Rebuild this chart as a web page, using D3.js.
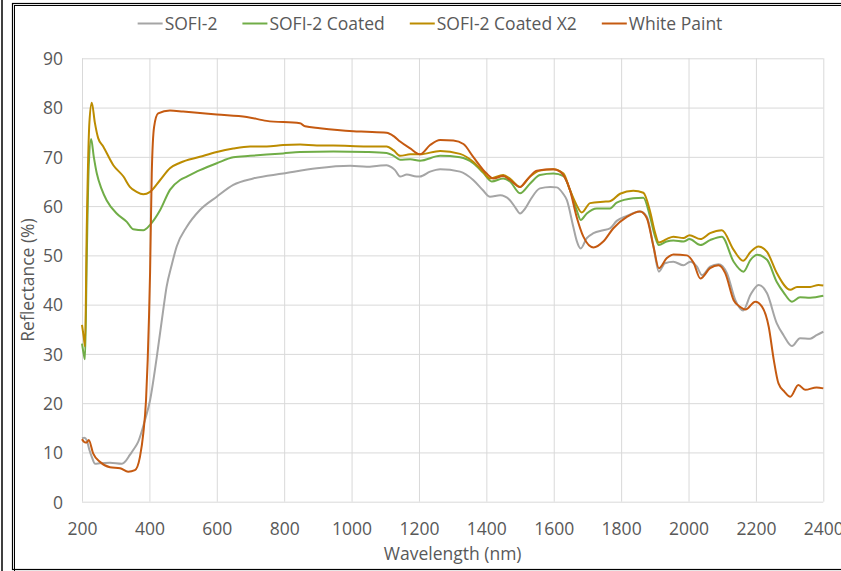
<!DOCTYPE html>
<html>
<head>
<meta charset="utf-8">
<script src="https://cdnjs.cloudflare.com/ajax/libs/d3/7.8.5/d3.min.js"></script>
<style>
    body { margin: 0; background: #fff; }
    svg text { font-family: "Open Sans", sans-serif; fill: #595959; }
</style>
</head>
<body>
<div id="chart"></div>
<script>
// wavelength (nm), reflectance (%)
var sofi2 = [[200,12.9],[207,13.0],[214,12.5],[222,10.5],[229,9.1],[239,7.7],[253,7.8],[283,7.9],[318,7.7],[330,8.3],
    [342,9.5],[355,10.8],[367,12.2],[387,16.6],[402,20.6],[422,29.4],[441,38.9],[451,43.6],[466,48.0],[481,51.8],
    [511,55.8],[550,59.2],[600,61.9],[649,64.3],[708,65.6],[797,66.6],[897,67.7],[996,68.2],[1045,68.0],[1080,68.2],
    [1104,68.3],[1118,67.9],[1129,67.3],[1144,66.0],[1164,66.4],[1193,66.0],[1203,66.0],[1233,67.0],[1263,67.5],[1322,67.0],
    [1361,65.3],[1390,63.2],[1411,61.9],[1441,62.2],[1470,61.2],[1488,59.5],[1500,58.5],[1515,59.5],[1530,61.2],[1559,63.6],
    [1590,63.9],[1609,63.8],[1628,62.5],[1639,61.2],[1658,55.8],[1668,53.0],[1680,51.4],[1698,53.5],[1718,54.5],[1747,55.1],
    [1767,55.5],[1787,57.0],[1817,58.0],[1856,58.9],[1876,57.9],[1896,51.8],[1912,46.7],[1930,48.4],[1955,48.7],[1985,48.0],
    [2005,48.7],[2025,47.7],[2040,46.0],[2064,47.7],[2089,48.2],[2114,46.4],[2139,40.9],[2162,38.8],[2184,42.0],[2208,44.0],
    [2233,42.3],[2262,36.2],[2282,33.8],[2307,31.6],[2331,33.2],[2361,33.1],[2380,33.8],[2400,34.5]];

var sofi2Coated = [[200,32.1],[205,30.0],[209,28.9],[214,49.0],[220,68.0],[227,73.6],[235,70.0],[244,66.6],[258,63.5],[273,61.2],
    [303,58.5],[333,56.8],[352,55.3],[382,55.1],[402,56.2],[432,59.2],[461,63.3],[491,65.3],[511,66.0],[550,67.3],
    [600,68.7],[649,69.9],[699,70.2],[797,70.7],[847,71.0],[946,71.1],[1045,71.0],[1104,70.8],[1125,70.2],[1144,69.4],
    [1174,69.5],[1203,69.2],[1263,70.2],[1322,69.9],[1361,68.7],[1390,66.8],[1416,65.0],[1450,65.6],[1470,65.0],[1500,62.6],
    [1530,64.6],[1559,66.3],[1599,66.6],[1629,66.1],[1648,63.3],[1668,59.2],[1680,57.2],[1698,58.5],[1728,59.5],[1767,59.5],
    [1787,60.7],[1836,61.6],[1866,61.7],[1886,57.8],[1900,54.0],[1912,52.1],[1935,52.8],[1955,53.0],[1985,52.8],[2003,53.3],
    [2035,52.1],[2064,53.1],[2099,53.8],[2134,48.7],[2163,46.7],[2184,49.1],[2204,50.1],[2233,49.1],[2262,44.6],[2282,42.5],
    [2307,40.6],[2331,41.5],[2361,41.4],[2400,41.8]];

var sofi2CoatedX2 = [[200,35.9],[205,33.5],[209,31.5],[214,55.0],[222,77.0],[229,81.0],[238,77.0],[248,73.8],[263,72.1],[293,68.3],
    [323,66.0],[342,63.9],[362,62.9],[382,62.4],[402,62.9],[432,65.3],[461,67.7],[491,68.8],[550,70.0],[600,71.0],
    [649,71.7],[699,72.1],[748,72.1],[797,72.4],[847,72.5],[897,72.3],[946,72.3],[1045,72.1],[1104,72.1],[1125,71.3],
    [1144,70.2],[1174,70.5],[1203,70.5],[1263,71.2],[1322,70.6],[1361,69.0],[1390,67.0],[1411,65.6],[1450,66.3],[1470,65.6],
    [1500,63.9],[1530,66.0],[1559,67.2],[1599,67.5],[1629,66.6],[1648,63.3],[1668,60.2],[1683,58.7],[1708,60.6],[1747,60.9],
    [1767,61.0],[1797,62.5],[1836,63.1],[1866,62.7],[1886,58.9],[1900,54.8],[1912,52.6],[1935,53.3],[1955,53.8],[1985,53.5],
    [2003,54.1],[2035,53.3],[2064,54.5],[2099,55.1],[2134,51.1],[2162,48.9],[2184,50.7],[2208,51.8],[2233,50.7],[2262,46.4],
    [2302,43.0],[2322,43.6],[2361,43.6],[2386,44.0],[2400,43.9]];

var whitePaint = [[200,12.7],[207,12.1],[214,12.0],[220,12.5],[233,9.8],[253,8.1],[283,7.0],[313,6.8],[337,6.1],[357,6.4],
    [372,9.1],[382,13.9],[390,20.6],[395,28.8],[402,46.4],[407,66.6],[414,76.1],[426,78.8],[461,79.4],[500,79.2],
    [550,78.9],[600,78.6],[689,78.1],[748,77.3],[847,76.8],[862,76.2],[906,75.8],[1005,75.2],[1045,75.1],[1104,74.9],
    [1125,74.2],[1144,73.1],[1174,71.7],[1203,70.5],[1233,72.4],[1263,73.4],[1302,73.3],[1332,72.6],[1361,70.0],[1401,66.6],
    [1421,65.6],[1450,66.1],[1470,65.3],[1500,63.9],[1520,65.3],[1550,67.2],[1599,67.5],[1619,67.0],[1648,63.3],[1668,57.8],
    [1688,53.8],[1718,51.6],[1747,52.8],[1777,55.5],[1817,57.8],[1856,58.9],[1876,57.6],[1896,51.8],[1912,47.4],[1935,49.4],
    [1955,50.2],[1995,50.0],[2015,48.5],[2035,45.3],[2064,47.4],[2089,48.0],[2109,46.4],[2134,40.9],[2154,39.5],[2169,39.0],
    [2198,40.6],[2218,39.6],[2238,35.5],[2253,28.8],[2267,24.0],[2285,22.3],[2302,21.3],[2326,23.7],[2346,22.7],[2380,23.2],
    [2400,23.0]];

var seriesNames = ["SOFI-2", "SOFI-2 Coated", "SOFI-2 Coated X2", "White Paint"];
var seriesColors = ["#a5a5a5", "#70ad47", "#bc8c00", "#c55a11"];
var xTickValues = [200, 400, 600, 800, 1000, 1200, 1400, 1600, 1800, 2000, 2200, 2400];
var yTickValues = [0, 10, 20, 30, 40, 50, 60, 70, 80, 90];

var W = 841, H = 571;
var margin = {top: 58.3, right: 17.7, bottom: 69.3, left: 82};
var width = W - margin.left - margin.right;
var height = H - margin.top - margin.bottom;
var fontSize = "17.5px";

var svg = d3.select("#chart").append("svg")
        .attr("width", W)
        .attr("height", H);

// frame
svg.append("line").attr("x1", 2).attr("x2", 2).attr("y1", 0).attr("y2", H)
        .attr("stroke", "#000").attr("stroke-width", 1.5);
svg.append("rect").attr("x", 12.5).attr("y", 3.5).attr("width", 840).attr("height", 566)
        .attr("fill", "none").attr("stroke", "#000").attr("stroke-width", 1.2);
svg.append("rect").attr("x", 14.5).attr("y", 5.5).attr("width", 840).attr("height", 570)
        .attr("fill", "none").attr("stroke", "#000").attr("stroke-width", 1);

var x = d3.scaleLinear().domain([200, 2400]).range([0, width]);
var y = d3.scaleLinear().domain([0, 90]).range([height, 0]);

var g = svg.append("g")
        .attr("transform", "translate(" + margin.left + "," + margin.top + ")");

// gridlines + tick labels
var gx = g.append("g")
        .attr("transform", "translate(0," + height + ")")
        .call(d3.axisBottom(x).tickValues(xTickValues).tickSize(-height).tickFormat(d3.format("d")));
gx.select(".domain").remove();
gx.selectAll(".tick line").attr("stroke", "#d9d9d9").attr("stroke-width", 1);
gx.selectAll(".tick text").attr("y", 33.5).attr("dy", null)
        .style("font-size", fontSize).style("font-family", '"Open Sans", sans-serif').attr("fill", "#595959");

var gy = g.append("g")
        .call(d3.axisLeft(y).tickValues(yTickValues).tickSize(-width).tickPadding(19));
gy.select(".domain").remove();
gy.selectAll(".tick line").attr("stroke", "#d9d9d9").attr("stroke-width", 1);
gy.selectAll(".tick text").attr("dy", "0.36em")
        .style("font-size", fontSize).style("font-family", '"Open Sans", sans-serif').attr("fill", "#595959");

// series
var line = d3.line()
        .x(function (d) { return x(d[0]); })
        .y(function (d) { return y(d[1]); })
        .curve(d3.curveMonotoneX);

var allSeries = [sofi2, sofi2Coated, sofi2CoatedX2, whitePaint];
g.selectAll(".series")
        .data(allSeries)
        .enter().append("path")
        .attr("class", "series")
        .attr("fill", "none")
        .attr("stroke", function (d, i) { return seriesColors[i]; })
        .attr("stroke-width", 2)
        .attr("stroke-linejoin", "round")
        .attr("d", line);

// axis titles
svg.append("text")
        .attr("x", margin.left + width / 2)
        .attr("y", 560)
        .attr("text-anchor", "middle")
        .style("font-size", fontSize)
        .text("Wavelength (nm)");

svg.append("text")
        .attr("transform", "translate(34," + (margin.top + height / 2) + ") rotate(-90)")
        .attr("text-anchor", "middle")
        .style("font-size", fontSize)
        .text("Reflectance (%)");

// legend
var legend = svg.append("g").attr("class", "legend");
var items = legend.selectAll("g")
        .data(seriesNames)
        .enter().append("g");
items.append("line")
        .attr("x1", 0).attr("x2", 25)
        .attr("y1", 23.5).attr("y2", 23.5)
        .attr("stroke", function (d, i) { return seriesColors[i]; })
        .attr("stroke-width", 2);
items.append("text")
        .attr("x", 27)
        .attr("y", 29.5)
        .style("font-size", fontSize)
        .text(function (d) { return d; });

var offsets = [], pos = 0;
items.each(function () {
    offsets.push(pos);
    pos += 27 + this.querySelector("text").getComputedTextLength() + 25;
});
var total = pos - 25;
var start = 430 - total / 2;
items.attr("transform", function (d, i) { return "translate(" + (start + offsets[i]) + ",0)"; });
</script>
</body>
</html>
